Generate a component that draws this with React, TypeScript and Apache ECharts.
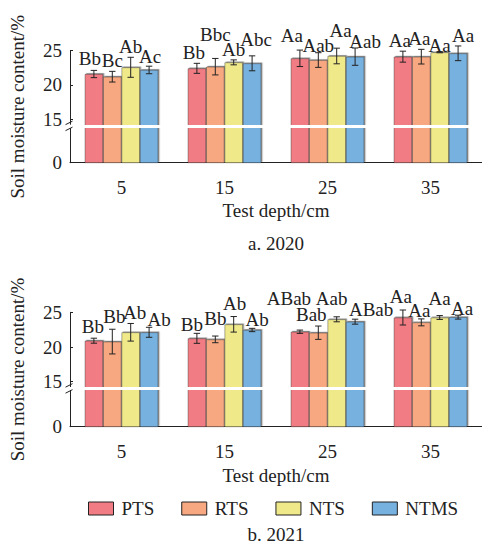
import React, { useEffect, useRef } from 'react';
import * as echarts from 'echarts';

// ---------- data ----------
const depths = ['5', '15', '25', '35'];
const treatments = ['PTS', 'RTS', 'NTS', 'NTMS'];
const yTickValues = [15, 20, 25];

// 2020 means (%)
const pts2020 = [21.6, 22.43, 23.89, 24.13];
const rts2020 = [21.21, 22.67, 23.64, 24.13];
const nts2020 = [22.58, 23.3, 24.23, 24.77];
const ntms2020 = [22.19, 23.16, 24.13, 24.62];
// 2020 standard errors
const ptsErr2020 = [0.53, 0.73, 1.2, 0.8];
const rtsErr2020 = [0.78, 1.2, 1.07, 1.07];
const ntsErr2020 = [1.46, 0.36, 1.14, 0.07];
const ntmsErr2020 = [0.55, 1.09, 1.26, 1.07];
// 2020 significance letters
const ptsSig2020 = ['Bb', 'Bb', 'Aa', 'Aa'];
const rtsSig2020 = ['Bc', 'Bbc', 'Aab', 'Aa'];
const ntsSig2020 = ['Ab', 'Ab', 'Aa', 'Aa'];
const ntmsSig2020 = ['Ac', 'Abc', 'Aab', 'Aa'];

// 2021 means (%)
const pts2021 = [20.91, 21.25, 22.2, 24.25];
const rts2021 = [20.78, 21.1, 22.06, 23.55];
const nts2021 = [22.12, 23.27, 23.99, 24.25];
const ntms2021 = [22.12, 22.45, 23.65, 24.3];
// 2021 standard errors
const ptsErr2021 = [0.36, 0.72, 0.24, 1.08];
const rtsErr2021 = [1.78, 0.48, 0.96, 0.5];
const ntsErr2021 = [1.27, 1.12, 0.36, 0.28];
const ntmsErr2021 = [0.72, 0.24, 0.36, 0.28];
// 2021 significance letters
const ptsSig2021 = ['Bb', 'Bb', 'ABab', 'Aa'];
const rtsSig2021 = ['Bb', 'Bb', 'Bab', 'Aa'];
const ntsSig2021 = ['Ab', 'Ab', 'Aab', 'Aa'];
const ntmsSig2021 = ['Ab', 'Ab', 'ABab', 'Aa'];

// ---------- layout / style ----------
const FONT = "'Liberation Serif', 'Times New Roman', serif";
const TXT = '#222';
const colors = ['#F27C83', '#F7A880', '#EFE98A', '#77B1DF'];
const GRID_LEFT = 69;
const GRID_W = 416;
const BAR_W = 18.4;
const BREAK_VALUE = 14;
const grids = [
  { top: 50.7, height: 112, min: 8.67 },
  { top: 312.3, height: 114.4, min: 8.52 },
];
// label nudges [dx px, lift px above error-bar top]
const shift2020 = [
  [[-4, 5], [-3, 4], [-8, 8], [-3, 4]],
  [[0, 4], [0, 17], [0, 1], [-2, 4]],
  [[0, 4], [0, 4], [4, 11], [0, 0]],
  [[1, 3], [4, 10], [10, 0], [5, 4]],
];
const shift2021 = [
  [[-1, 5], [-5, 2], [-11, 25], [-2, 7]],
  [[2, 6], [0, 11], [-7, 5], [-2, 2]],
  [[4, 4], [1, 7], [-5, 12], [0, 11]],
  [[10, 1], [5, 2], [16, 3], [4, 0]],
];

const years = [
  {
    means: [pts2020, rts2020, nts2020, ntms2020],
    errs: [ptsErr2020, rtsErr2020, ntsErr2020, ntmsErr2020],
    sigs: [ptsSig2020, rtsSig2020, ntsSig2020, ntmsSig2020],
    shifts: shift2020,
  },
  {
    means: [pts2021, rts2021, nts2021, ntms2021],
    errs: [ptsErr2021, rtsErr2021, ntsErr2021, ntmsErr2021],
    sigs: [ptsSig2021, rtsSig2021, ntsSig2021, ntmsSig2021],
    shifts: shift2021,
  },
];

function buildOption(): any {
  const grid = grids.map((g) => ({ left: GRID_LEFT, top: g.top, width: GRID_W, height: g.height }));
  const xAxis = grids.map((_, gi) => ({
    type: 'category',
    gridIndex: gi,
    data: depths,
    name: 'Test depth/cm',
    nameLocation: 'middle',
    nameGap: gi === 0 ? 38 : 39,
    nameTextStyle: { fontFamily: FONT, fontSize: 19, color: TXT },
    axisLine: { lineStyle: { color: TXT, width: 1 } },
    axisTick: { inside: true, alignWithLabel: true, length: 4, lineStyle: { color: TXT } },
    axisLabel: { fontFamily: FONT, fontSize: 19, color: TXT, margin: 15 },
    splitLine: { show: false },
  }));
  const yAxis = grids.map((g, gi) => ({
    type: 'value',
    gridIndex: gi,
    min: g.min,
    max: 25,
    name: 'Soil moisture content/%',
    nameLocation: 'middle',
    nameGap: 43,
    nameTextStyle: { fontFamily: FONT, fontSize: 19, color: TXT },
    axisLine: { show: true, lineStyle: { color: TXT, width: 1 } },
    axisTick: { show: true, inside: true, length: 3, customValues: yTickValues, lineStyle: { color: TXT } },
    axisLabel: {
      fontFamily: FONT,
      fontSize: 19,
      color: TXT,
      margin: 8,
      customValues: [g.min, ...yTickValues],
      formatter: (v: number) => (v < BREAK_VALUE ? '0' : String(Math.round(v))),
    },
    splitLine: { show: false },
  }));

  const series: any[] = [];
  years.forEach((yr, gi) => {
    treatments.forEach((t, ti) => {
      series.push({
        type: 'bar',
        name: t,
        xAxisIndex: gi,
        yAxisIndex: gi,
        data: yr.means[ti],
        barWidth: BAR_W,
        barGap: '0%',
        itemStyle: {
          color: colors[ti],
          borderColor: 'rgba(40,40,40,0.55)',
          borderWidth: 0.7,
          shadowColor: 'rgba(0,0,0,0.45)',
          shadowOffsetX: 1.3,
          shadowOffsetY: -1,
          shadowBlur: 0,
        },
        markLine:
          ti === treatments.length - 1
            ? {
                silent: true,
                symbol: ['none', 'none'],
                label: { show: false },
                lineStyle: { color: '#fff', width: 3, type: 'solid' },
                data: [{ yAxis: BREAK_VALUE }],
              }
            : undefined,
      });
    });
    treatments.forEach((t, ti) => {
      series.push({
        type: 'custom',
        name: t + ' err',
        xAxisIndex: gi,
        yAxisIndex: gi,
        z: 4,
        clip: false,
        encode: { x: 0, y: 1 },
        data: depths.map((_, ci) => [ci, yr.means[ti][ci], yr.errs[ti][ci]]),
        renderItem: (params: any, api: any) => {
          const ci = api.value(0);
          const m = api.value(1);
          const e = api.value(2);
          const c = api.coord([ci, m]);
          const x = c[0] + (ti - 1.5) * BAR_W;
          const yT = api.coord([ci, m + e])[1];
          const yB = api.coord([ci, m - e])[1];
          const [dx, dy] = yr.shifts[ti][params.dataIndex];
          const st = { stroke: TXT, lineWidth: 1 };
          return {
            type: 'group',
            children: [
              { type: 'line', shape: { x1: x, y1: yT, x2: x, y2: yB }, style: st },
              { type: 'line', shape: { x1: x - 3.2, y1: yT, x2: x + 3.2, y2: yT }, style: st },
              { type: 'line', shape: { x1: x - 3.2, y1: yB, x2: x + 3.2, y2: yB }, style: st },
              {
                type: 'text',
                style: {
                  text: yr.sigs[ti][params.dataIndex],
                  x: x + dx,
                  y: yT - dy + 3,
                  fill: TXT,
                  fontSize: 19,
                  fontFamily: FONT,
                  align: 'center',
                  verticalAlign: 'bottom',
                },
              },
            ],
          };
        },
      });
    });
  });

  return {
    animation: false,
    backgroundColor: '#fff',
    grid,
    xAxis,
    yAxis,
    legend: {
      data: treatments,
      left: 83,
      top: 494,
      itemWidth: 25,
      itemHeight: 13,
      itemGap: 27,
      icon: 'rect',
      itemStyle: {
        borderColor: '#222',
        borderWidth: 1,
        shadowBlur: 0,
        shadowOffsetX: 0,
        shadowOffsetY: 0,
        shadowColor: 'rgba(0,0,0,0)',
      },
      textStyle: { fontFamily: FONT, fontSize: 19, color: TXT, padding: [0, 0, 0, 3] },
    },
    series,
  };
}

export default function App() {
  const ref = useRef<HTMLDivElement>(null);
  useEffect(() => {
    if (!ref.current) return;
    const chart = echarts.init(ref.current, undefined, { renderer: 'svg' });
    chart.setOption(buildOption());
    const graphic: any[] = [
      {
        type: 'text',
        style: { text: 'a. 2020', x: 276, y: 243, fill: TXT, fontSize: 19, fontFamily: FONT, align: 'center', verticalAlign: 'middle' },
      },
      {
        type: 'text',
        style: { text: 'b. 2021', x: 276, y: 534, fill: TXT, fontSize: 19, fontFamily: FONT, align: 'center', verticalAlign: 'middle' },
      },
    ];
    grids.forEach((_, gi) => {
      const y = chart.convertToPixel({ yAxisIndex: gi } as any, BREAK_VALUE) as unknown as number;
      const gl = GRID_LEFT;
      graphic.push(
        { type: 'rect', shape: { x: gl - 5, y: y - 1.5, width: 10, height: 3 }, style: { fill: '#fff' }, z: 10 },
        { type: 'line', shape: { x1: gl - 3.5, y1: y - 1.5, x2: gl + 3.5, y2: y - 5 }, style: { stroke: TXT, lineWidth: 1 }, z: 10 },
        { type: 'line', shape: { x1: gl - 3.5, y1: y + 4.5, x2: gl + 3.5, y2: y + 1 }, style: { stroke: TXT, lineWidth: 1 }, z: 10 }
      );
    });
    chart.setOption({ graphic });
    return () => chart.dispose();
  }, []);
  return (
    <div
      ref={ref}
      style={{ position: 'fixed', left: 0, top: 0, width: 482, height: 545, background: '#fff' }}
    />
  );
}
